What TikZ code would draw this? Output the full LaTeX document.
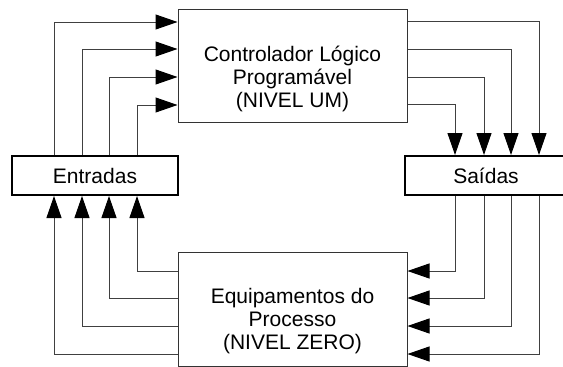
\documentclass[tikz,border=0pt]{standalone}
\usepackage{fontspec}
\setmainfont{Liberation Sans}
\usetikzlibrary{arrows.meta}
\tikzset{>={Triangle[length=22pt,width=15pt,color=black]}}
\tikzstyle{texto}=[align=center,font=\fontsize{21}{23}\selectfont]
\tikzstyle{nivel}=[draw=black!80,line width=1pt,minimum width=229pt,minimum height=113pt]
\tikzstyle{sinal}=[draw,line width=2pt,minimum height=39pt,font=\fontsize{21}{25}\selectfont]
\tikzstyle{fio}=[line width=1pt,black!75]

\begin{document}
\begin{tikzpicture}[x=1pt,y=-1pt]
  \useasboundingbox (0,0) rectangle (563,367);
  \node[nivel,label={[texto,yshift=-13pt]center:{Controlador Lógico\\Programável\\(NIVEL UM)}}] (clp) at (292.5,65.5) {};
  \node[nivel,minimum height=114pt,label={[texto,yshift=-12pt]center:{Equipamentos do\\Processo\\(NIVEL ZERO)}}] (equip) at (292.5,309) {};
  \node[sinal,minimum width=166pt] (ent) at (95,175.5) {Entradas};
  \node[sinal,minimum width=162pt] (sai) at (486,175.5) {Saídas};
  % entradas -> CLP
  \foreach \x/\y in {43/13.5,71/40.5,98/68.5,126/96.5}
    \draw[fio,->] ([xshift=\x pt]ent.north west) |- ([yshift=-\y pt]clp.north west);
  % CLP -> saidas
  \foreach \y/\x in {12.5/135,40.5/107,68.5/80,95.5/51}
    \draw[fio,->] ([yshift=-\y pt]clp.north east) -| ([xshift=\x pt]sai.north west);
  % saidas -> equipamentos
  \foreach \x/\y in {51/19.5,80/46.5,107/74.5,135/102.5}
    \draw[fio,->] ([xshift=\x pt]sai.south west) |- ([yshift=-\y pt]equip.north east);
  % equipamentos -> entradas
  \foreach \y/\x in {19.5/126,46.5/98,74.5/71,102.5/43}
    \draw[fio,->] ([yshift=-\y pt]equip.north west) -| ([xshift=\x pt]ent.south west);
\end{tikzpicture}
\end{document}
